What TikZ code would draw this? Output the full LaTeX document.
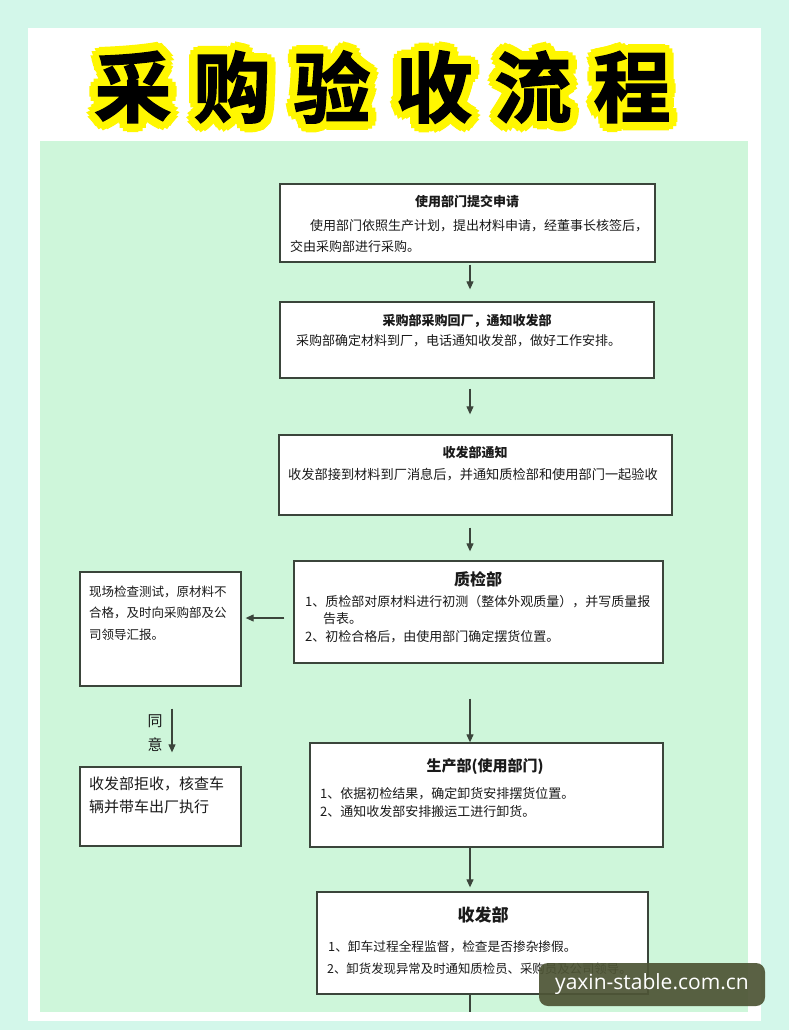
\documentclass[tikz,border=0pt]{standalone}
\usepackage{fontspec}
\newfontfamily\cjk{Noto Sans CJK SC}
\newfontfamily\cjkheavy[FakeBold=2]{Noto Sans CJK SC Bold}
\newfontfamily\wmfont{Open Sans}
\usetikzlibrary{arrows.meta,calc}
\definecolor{mint}{HTML}{D3F7EA}
\definecolor{panelg}{HTML}{CEF6DA}
\definecolor{boxline}{HTML}{3B453B}
\definecolor{glowy}{HTML}{FFF700}
\definecolor{wmbg}{HTML}{4E5536}
\definecolor{ink}{HTML}{1A1A1A}
\begin{document}
\begin{tikzpicture}[x=1pt,y=-1pt,font=\cjk,
  box/.style={draw=boxline,line width=1.3pt,fill=white,inner sep=0pt},
  ttl/.style={font=\cjk\bfseries\fontsize{13}{15}\selectfont,text=ink,inner sep=0pt},
  body/.style={font=\cjk\fontsize{13}{15}\selectfont,text=ink,inner sep=0pt,anchor=west},
  arr/.style={draw=boxline,line width=1.1pt,-{Triangle[length=8pt,width=7pt]}},
  conn/.style={draw=boxline,line width=1.1pt},
  bigch/.style={font=\cjkheavy\fontsize{77}{80}\selectfont,inner sep=0pt}]
\useasboundingbox (0,0) rectangle (789,1030);
\fill[mint] (0,0) rectangle (789,1030);
\fill[white] (28,28) rectangle (761,1021);
\fill[panelg] (40,141) rectangle (748,1012);
% title
\foreach \ch/\cx [count=\k] in {采/133,购/232,验/332,收/434,流/533,程/632}{
  \foreach \a [count=\i] in {0,30,...,330}{
    \node[bigch,text=glowy] (g\k-\i) at ($(\cx,87)+(\a:8.5)$) {\ch};
  }
  \node[bigch,text=black] (t\k) at (\cx,87) {\ch};
}
% boxes
\node[box,minimum width=375pt,minimum height=78pt] (b1) at (467.5,223) {};
\node[box,minimum width=374pt,minimum height=76pt] (b2) at (467,340) {};
\node[box,minimum width=393pt,minimum height=80pt] (b3) at (475.5,475) {};
\node[box,minimum width=369pt,minimum height=102pt] (b4) at (478.5,612) {};
\node[box,minimum width=161pt,minimum height=114pt] (l1) at (160.5,629) {};
\node[box,minimum width=161pt,minimum height=79pt] (l2) at (160.5,806.5) {};
\node[box,minimum width=353pt,minimum height=104pt] (b5) at (486.5,795) {};
\node[box,minimum width=331pt,minimum height=102pt] (b6) at (482.5,943) {};
% texts
\node[ttl] (b1t) at (467,202) {使用部门提交申请};
\node[body] (b1a) at (310,226) {使用部门依照生产计划，提出材料申请，经董事长核签后，};
\node[body] (b1b) at (290,247) {交由采购部进行采购。};
\node[ttl] (b2t) at (467,321) {采购部采购回厂，通知收发部};
\node[body] (b2a) at (296,341) {采购部确定材料到厂，电话通知收发部，做好工作安排。};
\node[ttl] (b3t) at (475,453) {收发部通知};
\node[body,font=\cjk\fontsize{13.2}{15}\selectfont] (b3a) at (288,475) {收发部接到材料到厂消息后，并通知质检部和使用部门一起验收};
\node[ttl,font=\cjk\bfseries\fontsize{16}{18}\selectfont] (b4t) at (478,579) {质检部};
\node[body] (b4a) at (305,602) {1、质检部对原材料进行初测（整体外观质量），并写质量报};
\node[body] (b4b) at (323,619) {告表。};
\node[body] (b4c) at (305,637) {2、初检合格后，由使用部门确定摆货位置。};
\node[body,font=\cjk\fontsize{12.5}{15}\selectfont] (l1a) at (89,592) {现场检查测试，原材料不};
\node[body,font=\cjk\fontsize{12.5}{15}\selectfont] (l1b) at (89,613) {合格，及时向采购部及公};
\node[body,font=\cjk\fontsize{12.5}{15}\selectfont] (l1c) at (89,635) {司领导汇报。};
\node[body,font=\cjk\fontsize{15}{17}\selectfont] (l2a) at (89,784) {收发部拒收，核查车};
\node[body,font=\cjk\fontsize{15}{17}\selectfont] (l2b) at (89,807) {辆并带车出厂执行};
\node[ttl,font=\cjk\fontsize{15}{17}\selectfont] (ty1) at (155,721) {同};
\node[ttl,font=\cjk\fontsize{15}{17}\selectfont] (ty2) at (155,745) {意};
\node[ttl,font=\cjk\bfseries\fontsize{15}{17}\selectfont] (b5t) at (485,767) {生产部(使用部门)};
\node[body] (b5a) at (320,794) {1、依据初检结果，确定卸货安排摆货位置。};
\node[body] (b5b) at (320,812) {2、通知收发部安排搬运工进行卸货。};
\node[ttl,font=\cjk\bfseries\fontsize{17}{19}\selectfont] (b6t) at (483,915) {收发部};
\node[body,font=\cjk\fontsize{12.7}{15}\selectfont] (b6a) at (328,947) {1、卸车过程全程监督，检查是否掺杂掺假。};
\node[body,font=\cjk\fontsize{12.4}{15}\selectfont] (b6b) at (327,969) {2、卸货发现异常及时通知质检员、采购员及公司领导。};
% connectors
\coordinate (ax) at (470,0);
\coordinate (ay) at (0,618);
\coordinate (lx) at (172,0);
\coordinate (tail) at (470,1012);
\draw[arr,shorten <=2pt,shorten >=12pt] (b1.south -| ax) -- (b2.north -| ax);
\draw[arr,shorten <=10pt,shorten >=20pt] (b2.south -| ax) -- (b3.north -| ax);
\draw[arr,shorten <=12pt,shorten >=9pt] (b3.south -| ax) -- (b4.north -| ax);
\draw[arr,shorten <=35pt] (b4.south -| ax) -- (b5.north -| ax);
\draw[arr,shorten >=4pt] (b5.south -| ax) -- (b6.north -| ax);
\draw[conn] (b6.south -| ax) -- (tail);
\draw[arr,shorten <=9pt,shorten >=4pt] (b4.west |- ay) -- (l1.east |- ay);
\draw[arr,shorten <=22pt,shorten >=14pt] (l1.south -| lx) -- (l2.north -| lx);
% watermark
\node[fill=wmbg,fill opacity=0.93,text opacity=1,text=white,rounded corners=9pt,
  minimum width=226pt,minimum height=43pt,inner sep=0pt,
  font=\wmfont\fontsize{21}{24}\selectfont] (wm) at (652,984.5) {yaxin-stable.com.cn};
\end{tikzpicture}
\end{document}
